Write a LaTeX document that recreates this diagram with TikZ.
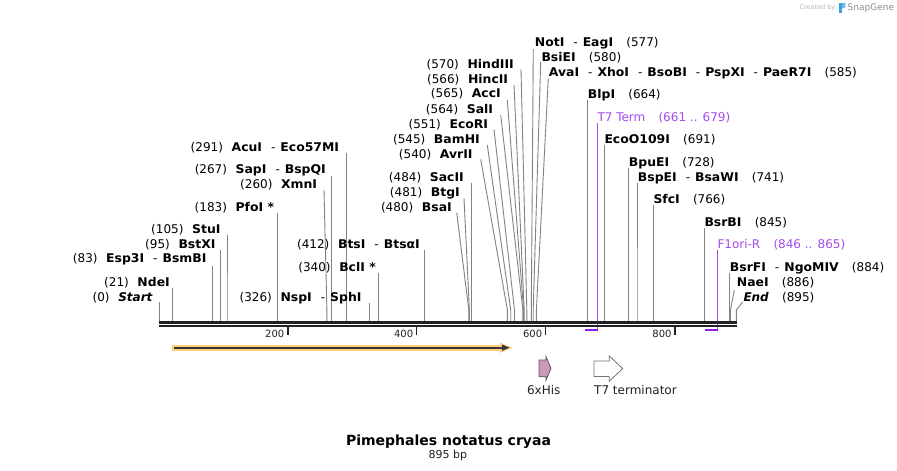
\documentclass[tikz,border=0pt]{standalone}
\usepackage{fontspec}
\setmainfont{DejaVu Sans}[BoldFeatures={FakeStretch=1.035}]
\newfontfamily\titlefont{DejaVu Sans}
\definecolor{siteg}{RGB}{130,130,130}
\definecolor{purp}{RGB}{165,75,240}
\definecolor{purpbar}{RGB}{140,30,230}
\definecolor{bb}{RGB}{34,34,34}
\definecolor{glow}{RGB}{255,206,125}
\definecolor{hispink}{RGB}{204,153,180}
\definecolor{snapblue}{RGB}{60,160,230}
\newcommand{\sepr}{\hspace{0.75em}{\mdseries -}\hspace{0.42em}}
\newcommand{\gp}{\hspace{0.72em}}
\newcommand{\gq}{\hspace{1.1em}}
\newcommand{\rsite}[8]{%
  \coordinate (s#1) at (#2,321);
  \coordinate (t#1) at (#3,#4);
  \node[lbl,anchor=#5] (l#1) at (#6,#7) {#8};
  \draw[siteline] (s#1) -- ++(0,-11) -- (t#1);
}
\tikzset{
  lbl/.style={inner sep=0pt, font=\fontsize{12}{14}\selectfont},
  siteline/.style={draw=siteg, line width=0.9pt},
  featline/.style={draw=purp, line width=1pt},
  featbar/.style={draw=purpbar, line width=2pt},
  tickmark/.style={draw=bb, line width=1.6pt},
  ticklbl/.style={inner sep=0pt, font=\fontsize{10}{12}\selectfont, anchor=base east, text=bb},
  backbone/.style={draw=bb},
}
\begin{document}
\begin{tikzpicture}[x=1pt,y=-1pt]
\useasboundingbox (0,0) rectangle (897,471);
\fill[white] (0,0) rectangle (897,471);

% watermark
\node[anchor=base east, inner sep=0pt, font=\fontsize{6.5}{8}\selectfont, text=black!28] (cb) at (835.5,9.8) {Created by};
\fill[snapblue] (839.3,2.8) rectangle (841.8,12.6);
\fill[snapblue!75] (841.8,2.8) -- (845.3,2.8) -- (845.3,7.2) -- (841.8,8.8) -- cycle;
\node[anchor=base west, inner sep=0pt, font=\fontsize{9}{10}\selectfont, text=black!45] (sg) at (847.5,10.6) {SnapGene};

% feature lines (purple), drawn below the backbone
\coordinate (fTa) at (585.4,330);
\coordinate (fTb) at (597.1,330);
\coordinate (tT7) at (597.1,123);
\node[lbl, anchor=base west, text=purp] (lT7) at (597.3,121.1) {T7 Term\gq(661 .. 679)};
\draw[featline] (fTb) ++(0,1) -- (tT7);
\draw[featbar] (fTa) -- ([xshift=0.5pt]fTb);

\coordinate (fFa) at (704.7,330);
\coordinate (fFb) at (717.0,330);
\coordinate (tF1) at (717.0,250);
\node[lbl, anchor=base west, text=purp] (lF1) at (717.3,248.4) {F1ori-R\gq(846 .. 865)};
\draw[featline] (fFb) ++(0,1) -- (tF1);
\draw[featbar] (fFa) -- ([xshift=0.5pt]fFb);

% left-side labels
\rsite{0}{159.3}{159.3}{302}{base east}{153}{301.1}{(0)\gp\textbf{\textit{Start}}}
\rsite{21}{172.8}{172.8}{288}{base east}{170}{286.9}{(21)\gp\textbf{NdeI}}
\rsite{83}{212.8}{212.8}{265.7}{base east}{206.7}{262.7}{(83)\gp\textbf{Esp3I}\sepr\textbf{BsmBI}}
\rsite{95}{220.5}{220.5}{250}{base east}{215.7}{248.7}{(95)\gp\textbf{BstXI}}
\rsite{105}{227.0}{227.0}{235}{base east}{220.7}{233.4}{(105)\gp\textbf{StuI}}
\rsite{183}{277.3}{277.3}{213.3}{base east}{274.3}{211.7}{(183)\gp\textbf{PfoI *}}
\rsite{260}{326.9}{324}{190}{base east}{317.3}{188.7}{(260)\gp\textbf{XmnI}}
\rsite{267}{331.4}{331.4}{175.7}{base east}{326}{173.4}{(267)\gp\textbf{SapI}\sepr\textbf{BspQI}}
\rsite{291}{346.9}{346.9}{153.3}{base east}{339.3}{151.1}{(291)\gp\textbf{AcuI}\sepr\textbf{Eco57MI}}
\rsite{326}{369.5}{369.5}{303}{base east}{361.7}{301.1}{(326)\gp\textbf{NspI}\sepr\textbf{SphI}}
\rsite{340}{378.5}{378.5}{273}{base east}{376}{271.1}{(340)\gp\textbf{BclI *}}
\rsite{412}{424.9}{424.9}{250}{base east}{420}{248.7}{(412)\gp\textbf{BtsI}\sepr\textbf{BtsαI}}
\rsite{480}{468.8}{456.7}{212.7}{base east}{452}{211.1}{(480)\gp\textbf{BsaI}}
\rsite{481}{469.4}{464}{198.3}{base east}{460}{196.7}{(481)\gp\textbf{BtgI}}
\rsite{484}{471.3}{471.3}{183.3}{base east}{464}{181.1}{(484)\gp\textbf{SacII}}
\rsite{540}{507.4}{480.7}{159.3}{base east}{472.7}{158.7}{(540)\gp\textbf{AvrII}}
\rsite{545}{510.7}{487.3}{145}{base east}{480}{143.1}{(545)\gp\textbf{BamHI}}
\rsite{551}{514.5}{494}{129.3}{base east}{488.3}{128.4}{(551)\gp\textbf{EcoRI}}
\rsite{564}{522.9}{500.7}{115}{base east}{493.3}{113.4}{(564)\gp\textbf{SalI}}
\rsite{565}{523.6}{507.3}{100}{base east}{501}{97.7}{(565)\gp\textbf{AccI}}
\rsite{566}{524.2}{514}{85}{base east}{508.3}{83.7}{(566)\gp\textbf{HincII}}
\rsite{570}{526.8}{521}{69.3}{base east}{514}{68.7}{(570)\gp\textbf{HindIII}}

% right-side labels
\rsite{577}{531.3}{533.3}{49}{base west}{534.7}{46.7}{\textbf{NotI}\sepr\textbf{EagI}\gq(577)}
\rsite{580}{533.2}{540.7}{62}{base west}{541.3}{61.1}{\textbf{BsiEI}\gq(580)}
\rsite{585}{536.4}{548.3}{78.3}{base west}{548.7}{76.7}{\textbf{AvaI}\sepr\textbf{XhoI}\sepr\textbf{BsoBI}\sepr\textbf{PspXI}\sepr\textbf{PaeR7I}\gq(585)}
\rsite{664}{587.4}{587.4}{100}{base west}{587.7}{98.4}{\textbf{BlpI}\gq(664)}
\rsite{691}{604.8}{604.8}{145}{base west}{604.3}{143.4}{\textbf{EcoO109I}\gq(691)}
\rsite{728}{628.6}{628.6}{168.3}{base west}{628.7}{166.7}{\textbf{BpuEI}\gq(728)}
\rsite{741}{637.0}{637.0}{183}{base west}{637.7}{181.1}{\textbf{BspEI}\sepr\textbf{BsaWI}\gq(741)}
\rsite{766}{653.1}{653.1}{205}{base west}{653.3}{203.4}{\textbf{SfcI}\gq(766)}
\rsite{845}{704.1}{704.1}{228}{base west}{704.3}{226.1}{\textbf{BsrBI}\gq(845)}
\rsite{884}{729.2}{729.2}{273}{base west}{729.7}{271.1}{\textbf{BsrFI}\sepr\textbf{NgoMIV}\gq(884)}
\rsite{886}{730.5}{734.3}{290}{base west}{736.7}{286.7}{\textbf{NaeI}\gq(886)}
\rsite{895}{736.3}{742.7}{302}{base west}{743.3}{301.1}{\textbf{\textit{End}}\gq(895)}

% backbone
\coordinate (bbL) at (158.6,322.5);
\coordinate (bbR) at (737.0,322.5);
\draw[backbone, line width=3pt] (bbL) -- (bbR);
\draw[backbone, line width=1.8pt] ([yshift=-3.4pt]bbL) -- ([yshift=-3.4pt]bbR);

% ticks
\coordinate (k200) at (287.7,326);
\coordinate (k400) at (416.6,326);
\coordinate (k600) at (545.6,326);
\coordinate (k800) at (674.9,326);
\draw[tickmark] (k200) -- ++(0,8.5);
\draw[tickmark] (k400) -- ++(0,8.5);
\draw[tickmark] (k600) -- ++(0,8.5);
\draw[tickmark] (k800) -- ++(0,8.5);
\node[ticklbl] (n200) at (284.5,337.4) {200};
\node[ticklbl] (n400) at (413.4,337.4) {400};
\node[ticklbl] (n600) at (542.4,337.4) {600};
\node[ticklbl] (n800) at (671.7,337.4) {800};

% orange ORF arrow
\coordinate (oa) at (174,347.7);
\coordinate (ob) at (503,347.7);
\draw[glow, line width=5.6pt] (172,347.7) -- (504,347.7);
\fill[glow] (500,342.6) -- (512.5,347.7) -- (500,352.8) -- cycle;
\draw[bb!90, line width=1.8pt] (oa) -- (ob);
\fill[bb!90] (502,344.5) -- (509.5,347.7) -- (502,350.9) -- cycle;

% 6xHis feature
\filldraw[fill=hispink, draw=black!65, line width=0.8pt]
  (539,360) -- (546,360) -- (546,356.6) -- (551,368.4) -- (546,380.2) -- (546,376.8) -- (539,376.8) -- cycle;
\node[lbl, anchor=base, text=bb] (his) at (543.7,394.3) {6xHis};

% T7 terminator feature
\filldraw[fill=white, draw=black!55, line width=0.8pt]
  (594,361) -- (609.3,361) -- (609.3,356) -- (622.7,368.6) -- (609.3,381.2) -- (609.3,376.4) -- (594,376.4) -- cycle;
\node[lbl, anchor=base west, text=bb] (t7t) at (594,394.3) {T7 terminator};

% title
\node[inner sep=0pt, anchor=base, font=\titlefont\bfseries\fontsize{14}{16}\selectfont] (title) at (448.5,445) {Pimephales notatus cryaa};
\node[inner sep=0pt, anchor=base, font=\fontsize{11}{13}\selectfont, text=bb] (len) at (447.8,458.6) {895 bp};
\end{tikzpicture}
\end{document}
